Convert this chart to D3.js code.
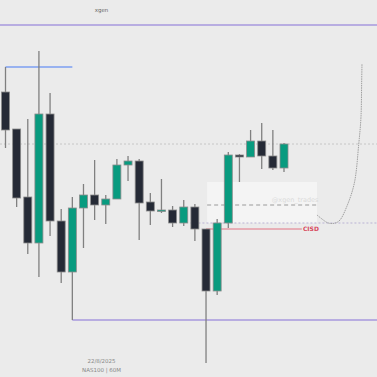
<!DOCTYPE html>
<html><head><meta charset="utf-8">
<script src="https://cdn.jsdelivr.net/npm/d3@7"></script>
<style>html,body{margin:0;padding:0;background:#ebebeb;overflow:hidden}</style>
</head><body>
<script>
// ---- data (price in arbitrary chart units) ----
const opens  = [285,248,180,134,263,156,105,169,182,172,178,212,216,175,166,167,154,170,148, 86,154,222,220,236,221,209];
const highs  = [310,248,258,326,284,168,180,193,217,182,218,221,218,184,198,171,177,173,148,158,225,223,247,254,247,234];
const lows   = [229,170,123,100,141, 94, 57,129,157,153,178,196,137,152,164,150,151,136, 14, 82,149,195,220,208,207,205];
const closes = [247,179,134,263,156,105,169,182,172,178,212,216,174,166,167,154,170,148, 86,154,222,220,236,221,209,233];
const candles = opens.map((o,i)=>({i, o, h:highs[i], l:lows[i], c:closes[i]}));

// key levels
const levelTop = 352, levelBlue = 310, levelBottom = 57, levelDash = 233, levelDot = 154, levelCISD = 148;
const zoneTop = 195, zoneBottom = 154, zoneMid = 172;
// projected path (index, price)
const projX = [27.96,28.41,28.86,29.22,29.67,30.03,30.63,31.31,31.71,31.91,31.97,32.0];
const projY = [162,158,154.5,153.5,154.2,157,170.3,193.7,233,260,294,313];

const W = 377, H = 377;
const x = d3.scaleLinear().domain([0,25]).range([5.5,284]);
const y = d3.scaleLinear().domain([0,377]).range([377,0]);
const bw = 8;

const svg = d3.select("body").append("svg").attr("width",W).attr("height",H);
svg.append("rect").attr("width",W).attr("height",H).attr("fill","#ebebeb");

// zone
svg.append("rect").attr("x",x(18.1)).attr("y",y(zoneTop)).attr("width",x(27.96)-x(18.1))
  .attr("height",y(zoneBottom)-y(zoneTop)).attr("fill","#ffffff").attr("opacity",0.45);
svg.append("line").attr("x1",x(18.1)).attr("x2",x(27.96)).attr("y1",y(zoneMid)).attr("y2",y(zoneMid))
  .attr("stroke","#9a9a9a").attr("stroke-width",1).attr("stroke-dasharray","4,3");
svg.append("text").attr("x",x(26.0)).attr("y",y(zoneMid)-3).attr("text-anchor","middle")
  .attr("font-family","DejaVu Sans").attr("font-size",6.5).attr("fill","#dadada").text("@xgen_trades");

// levels
svg.append("line").attr("x1",0).attr("x2",W).attr("y1",y(levelDash)).attr("y2",y(levelDash))
  .attr("stroke","#c6c6c6").attr("stroke-width",1).attr("stroke-dasharray","2,2");
svg.append("line").attr("x1",x(16.6)).attr("x2",W).attr("y1",y(levelDot)).attr("y2",y(levelDot))
  .attr("stroke","#b9b2d4").attr("stroke-width",1).attr("stroke-dasharray","2,2");
svg.append("line").attr("x1",0).attr("x2",W).attr("y1",y(levelTop)).attr("y2",y(levelTop))
  .attr("stroke","#a798de").attr("stroke-width",1.5);
svg.append("line").attr("x1",x(0)).attr("x2",x(6)).attr("y1",y(levelBlue)).attr("y2",y(levelBlue))
  .attr("stroke","#7c9ff2").attr("stroke-width",1.5);
svg.append("line").attr("x1",x(6)).attr("x2",W).attr("y1",y(levelBottom)).attr("y2",y(levelBottom))
  .attr("stroke","#a798de").attr("stroke-width",1.5);
svg.append("line").attr("x1",x(18)).attr("x2",x(26.6)).attr("y1",y(levelCISD)).attr("y2",y(levelCISD))
  .attr("stroke","#e27283").attr("stroke-width",1);
svg.append("text").attr("x",x(26.7)).attr("y",y(levelCISD)+2).attr("font-family","DejaVu Sans")
  .attr("font-size",6).attr("font-weight","bold").attr("fill","#d8485c").text("CISD");

// projection
svg.append("path").datum(projX.map((v,k)=>[v,projY[k]]))
  .attr("d",d3.line().x(d=>x(d[0])).y(d=>y(d[1])).curve(d3.curveCatmullRom.alpha(0.5)))
  .attr("fill","none").attr("stroke","#a0a0a0").attr("stroke-width",1).attr("stroke-dasharray","1.5,0.8");

// candles
const g = svg.append("g");
g.selectAll("line.w").data(candles).join("line").attr("class","w")
  .attr("x1",d=>x(d.i)).attr("x2",d=>x(d.i)).attr("y1",d=>y(d.h)).attr("y2",d=>y(d.l))
  .attr("stroke","#808080").attr("stroke-width",1.3);
g.selectAll("rect.b").data(candles).join("rect").attr("class","b")
  .attr("x",d=>x(d.i)-bw/2).attr("width",bw)
  .attr("y",d=>y(Math.max(d.o,d.c)))
  .attr("height",d=>Math.max(1.5, Math.abs(y(d.o)-y(d.c))))
  .attr("fill",d=>d.c>=d.o?"#089b7f":"#252a36")
  .attr("stroke","#8c8c8c").attr("stroke-width",0.8);

// labels
svg.append("text").attr("x",101.5).attr("y",12).attr("text-anchor","middle").attr("font-family","DejaVu Sans")
  .attr("font-size",5.5).attr("fill","#666").text("xgen");
svg.append("text").attr("x",101.5).attr("y",363).attr("text-anchor","middle").attr("font-family","DejaVu Sans")
  .attr("font-size",5.5).attr("fill","#888").text("22/8/2025");
svg.append("text").attr("x",101.5).attr("y",372).attr("text-anchor","middle").attr("font-family","DejaVu Sans")
  .attr("font-size",5.5).attr("fill","#888").text("NAS100 | 60M");
</script>
</body></html>
